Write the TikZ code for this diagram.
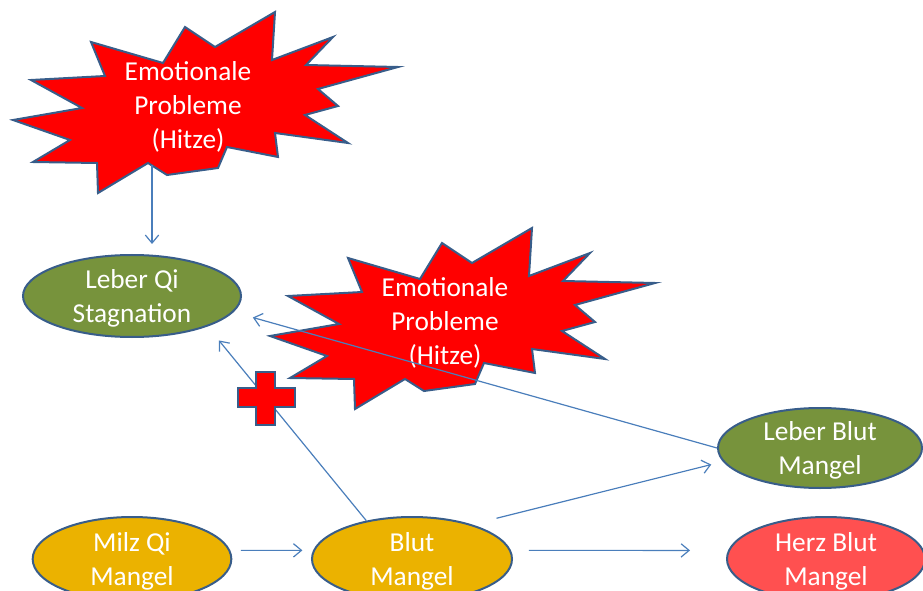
\documentclass[tikz,border=0pt]{standalone}
\usepackage{fontspec}
\setmainfont{Carlito}
\usetikzlibrary{arrows.meta,calc,shapes.geometric}
\definecolor{lineblue}{HTML}{4A7EBB}
\definecolor{edgeblue}{HTML}{385D8A}
\definecolor{qigreen}{HTML}{77933C}
\definecolor{qigold}{HTML}{EBB200}
\definecolor{heartred}{HTML}{FF5050}

\begin{document}
\begin{tikzpicture}[
    x=0.75pt, y=-0.75pt,
    font=\fontsize{20.5}{25.5}\selectfont,
    blob/.style={ellipse, draw=edgeblue, line width=1.5pt, text=white, align=center,
      inner xsep=0pt, inner ysep=-3pt, text depth=0pt, minimum height=63pt},
    firetext/.style={text=white, align=center},
    burst/.pic={
      \draw[fill=red, draw=edgeblue, line width=1.5pt]
        (13,120) -- (82,108) -- (31,80) -- (105,76) -- (91,42) -- (163,63)
        -- (185,27) -- (215,47) -- (275,12) -- (272,60) -- (333,37) -- (306,65)
        -- (398,67) -- (318,89) -- (338,106) -- (305,115) -- (348,143) -- (275,133)
        -- (278,157) -- (227,147) -- (218,168) -- (167,175) -- (148,163) -- (98,193)
        -- (97,163) -- (33,162) -- (70,140) -- cycle;
    },
    arrow/.style={-{Straight Barb[length=6pt,width=10pt]}, draw=lineblue, line width=0.9pt}
  ]
    \useasboundingbox (0,0) rectangle (923,591);

    % explosions
    \pic at (0,0) {burst};
    \pic at (257,216) {burst};
    \node[firetext] (fire1) at (188,107) {Emotionale\\Probleme\\(Hitze)};
    \node[firetext] (fire2) at (445,323) {Emotionale\\Probleme\\(Hitze)};
    \coordinate (fire1-out) at (152,165);

    \node[blob, fill=qigreen, minimum width=163.5pt, minimum height=61.5pt] (leberqi) at (132,296) {Leber Qi\\Stagnation};
    \node[blob, fill=qigreen, minimum width=153pt, minimum height=60pt] (leberblut) at (820,448) {Leber Blut\\Mangel};
    \node[blob, fill=qigold, minimum width=149pt] (milz) at (132,559) {Milz Qi\\Mangel};
    \node[blob, fill=qigold, minimum width=150pt] (blut) at (412,559) {Blut\\Mangel};
    \node[blob, fill=heartred, minimum width=148.5pt] (herz) at (826,559) {Herz Blut\\Mangel};

    \draw[arrow, shorten >=7.5pt] (fire1-out) -- (fire1-out |- leberqi.north);
    \draw[arrow, shorten >=13.5pt] (blut.140) -- (leberqi.338);
    \draw[arrow, shorten >=15pt] (leberblut.west) -- (leberqi.351);
    \draw[arrow, shorten <=19pt, shorten >=9pt] (blut.30) -- (leberblut.188);
    \draw[arrow, shorten <=8pt, shorten >=8pt] (milz.5) -- (blut.175);
    \draw[arrow, shorten <=13.5pt, shorten >=28.5pt] (blut.5) -- (herz.175);

    % red cross
    \draw[fill=red, draw=edgeblue, line width=1.5pt]
      (256,372) -- (275,372) -- (275,388) -- (295,388) -- (295,407) -- (275,407)
      -- (275,425) -- (256,425) -- (256,407) -- (238,407) -- (238,388) -- (256,388) -- cycle;
  \end{tikzpicture}
\end{document}
